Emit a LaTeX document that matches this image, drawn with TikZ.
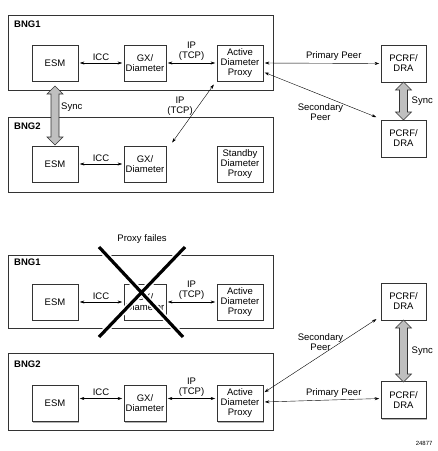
\documentclass[tikz,border=0pt]{standalone}
\usepackage{fontspec}
\setmainfont{Liberation Sans}
\usetikzlibrary{arrows.meta,shadows}

% fat grey two-headed arrow: x, top y, bottom y
\newcommand\syncarrow[3]{%
  \draw[sync] (#1,#2) -- ({#1+8},{#2+8}) -- ({#1+4},{#2+8}) -- ({#1+4},{#3-8}) -- ({#1+8},{#3-8})
    -- (#1,#3) -- ({#1-8},{#3-8}) -- ({#1-4},{#3-8}) -- ({#1-4},{#2+8}) -- ({#1-8},{#2+8}) -- cycle;}

\begin{document}
\begin{tikzpicture}[x=1pt,y=-1pt,font=\fontsize{9.5}{10}\selectfont,
    every node/.style={align=center},
    shade/.style={drop shadow={shadow xshift=1.2pt,shadow yshift=-1.2pt,fill=black!30,opacity=1}},
    bng/.style={draw=black!80,line width=0.6pt,fill=white,minimum width=265pt,inner sep=0pt,shade},
    blk/.style={draw=black!80,line width=0.6pt,fill=white,minimum width=46pt,minimum height=36pt,inner sep=1pt,shade},
    gx/.style={blk,minimum width=42pt},
    title/.style={anchor=west,font=\fontsize{9.5}{10}\selectfont\bfseries},
    synclabel/.style={anchor=west,inner sep=1pt},
    link/.style={{Stealth[length=4.5pt,width=3pt]}-{Stealth[length=4.5pt,width=3pt]},line width=0.4pt,shorten <=1.5pt,shorten >=1.5pt},
    sync/.style={draw=black!80,line width=0.6pt,fill=black!25,line join=miter},
    crossline/.style={line width=3.2pt}]
  \useasboundingbox (0,0) rectangle (438,451);

  % top: both proxies alive
  \node[bng,minimum height=75pt] (bngA) at (140.5,52.5) {};
  \node[title] at ([xshift=3pt,yshift=-10pt]bngA.north west) {BNG1};
  \node[bng,minimum height=75pt] (bngB) at (140.5,154.5) {};
  \node[title] at ([xshift=3pt,yshift=-10pt]bngB.north west) {BNG2};

  \node[blk] (esmA) at (55,63) {ESM};
  \node[gx] (gxA) at (145,63) {GX/\\Diameter};
  \node[blk] (proxyA) at (240,63) {Active\\Diameter\\Proxy};
  \node[blk] (esmB) at (55,164) {ESM};
  \node[gx] (gxB) at (145,164) {GX/\\Diameter};
  \node[blk] (standbyB) at (240,164) {Standby\\Diameter\\Proxy};
  \node[blk,minimum width=45pt,minimum height=37pt] (pcrfA) at (403.5,63.5) {PCRF/\\DRA};
  \node[blk,minimum width=45pt,minimum height=37pt] (pcrfB) at (403.5,138.5) {PCRF/\\DRA};

  \draw[link] (esmA) -- node[above=-1pt]{ICC} (gxA);
  \draw[link] (gxA) -- node[above=-1pt]{IP\\(TCP)} (proxyA);
  \draw[link] (esmB) -- node[above=-1pt]{ICC} (gxB);
  \draw[link] ([xshift=5pt,yshift=2pt]gxB.north east) -- node[pos=0.62,left=2pt]{IP\\(TCP)} ([xshift=-2pt,yshift=-2pt]proxyA.south west);
  \draw[link] (proxyA.east) -- node[pos=0.6,above=-1pt]{Primary Peer} (pcrfA.west);
  \draw[link] ([yshift=-9pt]proxyA.east) -- node[midway,below=5pt]{Secondary\\Peer} ([xshift=-3pt,yshift=2pt]pcrfB.north west);

  \syncarrow{55}{86}{145}
  \node[synclabel] (syncA) at (60,107) {Sync};
  \syncarrow{403.5}{82}{120}
  \node[synclabel] (syncB) at (410.5,101) {Sync};

  % bottom: proxy on BNG1 fails
  \node (fail) at (142,239) {Proxy failes};
  \node[bng,minimum height=73pt] (bngC) at (140.5,291.5) {};
  \node[title] at ([xshift=3pt,yshift=-8pt]bngC.north west) {BNG1};
  \node[bng,minimum height=77pt] (bngD) at (140.5,391.5) {};
  \node[title] at ([xshift=3pt,yshift=-12pt]bngD.north west) {BNG2};

  \node[blk] (esmC) at (55,302) {ESM};
  \node[gx] (gxC) at (145,302) {GX/\\Diameter};
  \node[blk] (proxyC) at (240,302) {Active\\Diameter\\Proxy};
  \node[blk] (esmD) at (55,403.5) {ESM};
  \node[gx] (gxD) at (145,403.5) {GX/\\Diameter};
  \node[blk] (proxyD) at (240,403.5) {Active\\Diameter\\Proxy};
  \node[blk,minimum width=45pt,minimum height=37pt] (pcrfC) at (403.5,301.5) {PCRF/\\DRA};
  \node[blk,minimum width=45pt,minimum height=37pt] (pcrfD) at (403.5,400) {PCRF/\\DRA};

  \draw[link] (esmC) -- node[above=-1pt]{ICC} (gxC);
  \draw[link] (gxC) -- node[above=-1pt]{IP\\(TCP)} (proxyC);
  \draw[link] ([yshift=5pt]esmD.east) -- node[above=-1pt]{ICC} ([yshift=5pt]gxD.west);
  \draw[link] ([yshift=5pt]gxD.east) -- node[above=-1pt]{IP\\(TCP)} ([yshift=5pt]proxyD.west);
  \draw[link] ([yshift=1.5pt]proxyD.east) -- node[pos=0.6,above=-1pt]{Primary Peer} ([yshift=1.5pt]pcrfD.west);
  \draw[link] ([yshift=10.5pt]proxyD.east) -- node[midway,above=2pt]{Secondary\\Peer} ([xshift=-3pt,yshift=2pt]pcrfC.south west);

  \syncarrow{403.5}{320}{382}
  \node[synclabel] (syncD) at (410.5,351) {Sync};

  % the cross over the failed proxy
  \draw[crossline,white,line width=6.5pt] (99,247) -- (183,337) (185,247) -- (99,337);
  \draw[crossline] (99,247) -- (183,337) (185,247) -- (99,337);

  \node[anchor=east,font=\fontsize{6}{7}\selectfont] at (436,443) {24877};
\end{tikzpicture}
\end{document}
